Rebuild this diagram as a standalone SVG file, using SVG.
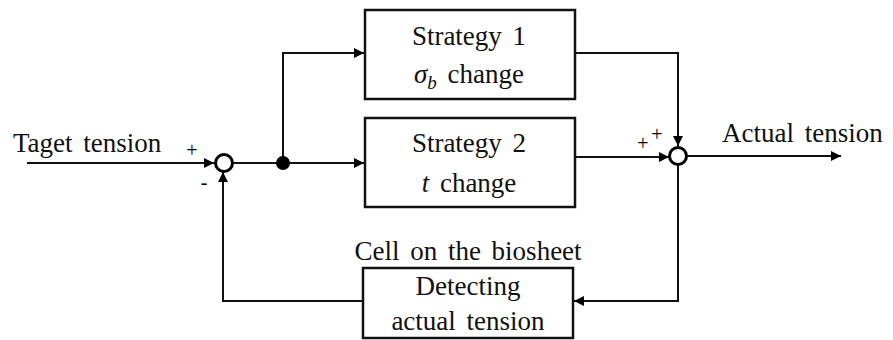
<svg xmlns="http://www.w3.org/2000/svg" width="893" height="340" viewBox="0 0 893 340">
<defs>
<style>
.t{font-family:'Liberation Serif','Times New Roman','DejaVu Serif',serif;font-size:27px;fill:#111;word-spacing:4px}
.s{font-family:'Liberation Serif','DejaVu Serif',serif;font-size:20px;fill:#000}
.box{fill:#fff;stroke:#111;stroke-width:2.5}
.ln{fill:none;stroke:#111;stroke-width:2}
.sum{fill:#fff;stroke:#000;stroke-width:3}
</style>
<marker id="ah" viewBox="0 0 10 10" refX="10" refY="5" markerWidth="10" markerHeight="10" markerUnits="userSpaceOnUse" orient="auto">
<path d="M0,0 L10,5 L0,10 z" fill="#000"/>
</marker>
</defs>
<g id="connectors">
<path class="ln" d="M27,163 L214,163" marker-end="url(#ah)"/>
<path class="ln" d="M232,163 L364,163" marker-end="url(#ah)"/>
<path class="ln" d="M283,163 L283,53 L364,53" marker-end="url(#ah)"/>
<path class="ln" d="M575,53 L678,53 L678,146" marker-end="url(#ah)"/>
<path class="ln" d="M575,157 L669,157" marker-end="url(#ah)"/>
<path class="ln" d="M687,156 L841,156" marker-end="url(#ah)"/>
<path class="ln" d="M678,165 L678,301 L574,301" marker-end="url(#ah)"/>
<path class="ln" d="M363,301 L223,301 L223,172" marker-end="url(#ah)"/>
<circle cx="283" cy="163" r="7" fill="#000"/>
</g>
<g id="sum1">
<circle class="sum" cx="224" cy="163" r="8.5"/>
<text class="s" x="192" y="157" text-anchor="middle">+</text>
<text class="s" x="204" y="189" text-anchor="middle">-</text>
</g>
<g id="sum2">
<circle class="sum" cx="678" cy="156" r="8.5"/>
<text class="s" x="643" y="150" text-anchor="middle">+</text>
<text class="s" x="657" y="141" text-anchor="middle">+</text>
</g>
<g id="input">
<text class="t" x="13" y="152">Taget tension</text>
</g>
<g id="output">
<text class="t" x="722" y="142">Actual tension</text>
</g>
<g id="strategy1">
<rect class="box" x="365" y="10" width="210" height="89"/>
<text class="t" x="469" y="45" text-anchor="middle">Strategy 1</text>
<text class="t" x="469" y="83" text-anchor="middle"><tspan font-style="italic">σ</tspan><tspan font-style="italic" font-size="19" dy="6">b</tspan><tspan dy="-6"> change</tspan></text>
</g>
<g id="strategy2">
<rect class="box" x="365" y="118" width="210" height="89"/>
<text class="t" x="469" y="152" text-anchor="middle">Strategy 2</text>
<text class="t" x="469" y="192" text-anchor="middle"><tspan font-style="italic">t</tspan> change</text>
</g>
<g id="detect">
<text class="t" x="468" y="260" text-anchor="middle">Cell on the biosheet</text>
<rect class="box" x="363" y="268" width="210" height="70"/>
<text class="t" x="468" y="295" text-anchor="middle">Detecting</text>
<text class="t" x="468" y="330" text-anchor="middle">actual tension</text>
</g>
</svg>
